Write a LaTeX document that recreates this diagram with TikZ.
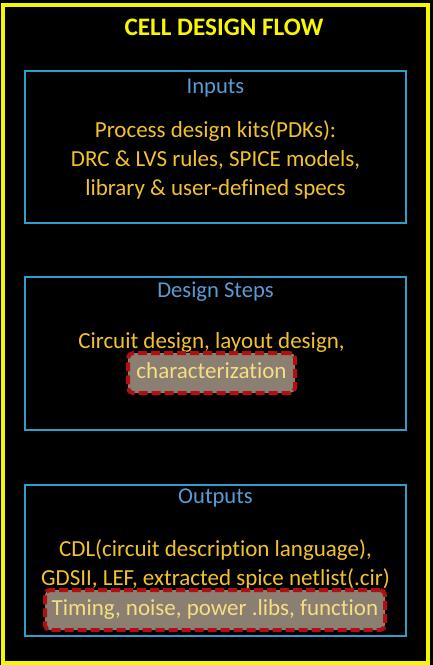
\documentclass[tikz,border=0pt]{standalone}
\usepackage{fontspec}
\setmainfont{Carlito}[Ligatures={NoCommon}]
\definecolor{framey}{HTML}{F7F700}
\definecolor{panelblue}{HTML}{2E9FCC}
\definecolor{headblue}{HTML}{5B9BD5}
\definecolor{bodygold}{HTML}{F2C22E}
\definecolor{hlfill}{HTML}{8A7F70}
\definecolor{hltext}{HTML}{F6DE84}
\definecolor{hlred}{HTML}{B30E12}
\tikzset{
  panel/.style={draw=panelblue, line width=2pt, minimum width=381pt, inner sep=0pt},
  heading/.style={text=headblue, font=\fontsize{22.6}{26}\selectfont, anchor=base, inner sep=0pt},
  bodyline/.style={text=bodygold, font=\fontsize{23}{27}\selectfont, anchor=base, inner sep=0pt},
  highlight/.style={draw=hlred, fill=hlfill, text=hltext, line width=4pt,
    dash pattern=on 9pt off 4pt, rounded corners=5pt,
    font=\fontsize{23}{27}\selectfont, anchor=base,
    text height=16pt, text depth=6pt, inner ysep=9pt, inner xsep=0pt}
}
\begin{document}
\begin{tikzpicture}[x=1pt,y=-1pt]
  \fill[black] (0,0) rectangle (433,665);
  \useasboundingbox (0,0) rectangle (433,665);
  % outer frame
  \draw[framey, line width=4pt] (3,5) rectangle (428,663);
  \node[text=framey, font=\fontsize{25.2}{30}\selectfont\bfseries, anchor=base, inner sep=0pt]
    (title) at (224,35) {CELL DESIGN FLOW};

  % three stage panels
  \node[panel, minimum height=152pt] (inputs) at (215.5,147) {};
  \node[panel, minimum height=153pt] (steps)  at (215.5,353.5) {};
  \node[panel, minimum height=151pt] (outputs) at (215.5,560.5) {};

  % inputs
  \node[heading] (inhead) at (215.5,93) {Inputs};
  \node[bodyline] (in1) at (215.5,137) {Process design kits(PDKs):};
  \node[bodyline] (in2) at (215.5,166) {DRC \& LVS rules, SPICE models,};
  \node[bodyline] (in3) at (215.5,195) {library \& user-defined specs};

  % design steps
  \node[heading] (sthead) at (215.5,297) {Design Steps};
  \node[bodyline] (st1) at (211.5,348) {Circuit design, layout design,};
  \node[highlight, minimum width=167pt] (st2) at (211.5,378) {characterization};

  % outputs
  \node[heading] (outhead) at (215.5,503) {Outputs};
  \node[bodyline] (out1) at (215.5,556) {CDL(circuit description language),};
  \node[bodyline] (out2) at (215.5,585) {GDSII, LEF, extracted spice netlist(.cir)};
  \node[highlight, minimum width=340pt] (out3) at (215,615) {Timing, noise, power .libs, function};
\end{tikzpicture}
\end{document}
